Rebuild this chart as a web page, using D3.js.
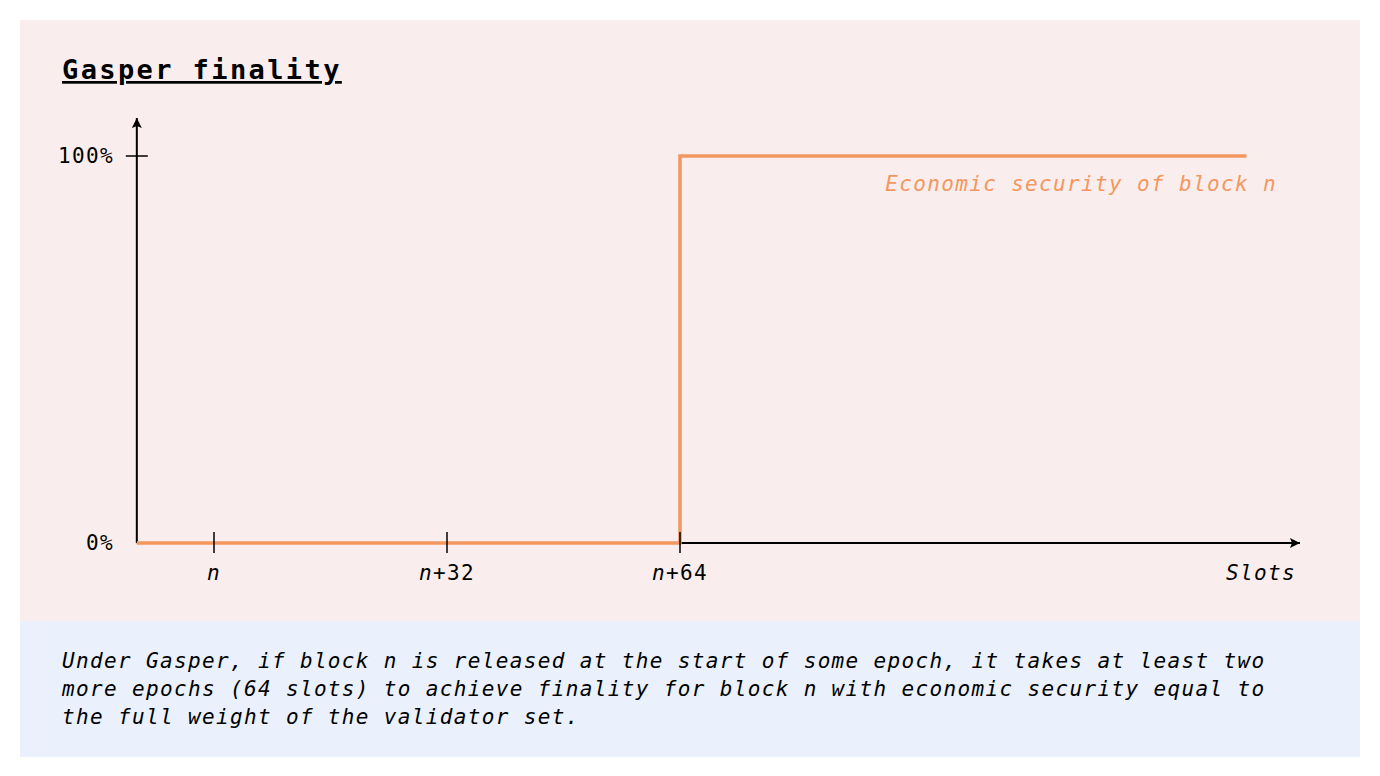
<!DOCTYPE html>
<html lang="en">
<head>
<meta charset="UTF-8"/>
<title>Gasper finality</title>
<script src="https://d3js.org/d3.v7.min.js" charset="utf-8"></script>
<style>
  body { margin: 0; background: #fff; }
  text { font-family: "DejaVu Sans Mono", monospace; font-size: 21px; letter-spacing: 1.35px; fill: #000; }
</style>
</head>
<body>
<script>
// data
var slotTicks = [0, 32, 64];
var slotLabels = ["n", "n+32", "n+64"];
var securitySlots = [-10.6, 64, 64, 141.8];
var securityValues = [0, 0, 100, 100];
var yTicks = [0, 100];
var yLabels = ["0%", "100%"];
var captionLines = [
  "Under Gasper, if block n is released at the start of some epoch, it takes at least two",
  "more epochs (64 slots) to achieve finality for block n with economic security equal to",
  "the full weight of the validator set."
];

var W = 1380, H = 776;
var svg = d3.select("body").append("svg").attr("width", W).attr("height", H);

svg.append("rect").attr("x", 20).attr("y", 20).attr("width", 1340).attr("height", 601).attr("fill", "#f9eeed");
svg.append("rect").attr("x", 20).attr("y", 621).attr("width", 1340).attr("height", 136).attr("fill", "#eaf1fc");

svg.append("text").attr("x", 62).attr("y", 79)
  .style("font-size", "27px").style("font-weight", "bold").style("letter-spacing", "2.4px")
  .style("text-decoration", "underline").text("Gasper finality");

var x = d3.scaleLinear().domain([0, 64]).range([214, 680]);
var y = d3.scaleLinear().domain([0, 100]).range([543, 156]);
var x0 = x(-10.6);

svg.append("defs").append("marker").attr("id", "arr")
  .attr("viewBox", "0 0 10 10").attr("refX", 10).attr("refY", 5)
  .attr("markerWidth", 10).attr("markerHeight", 10).attr("markerUnits", "userSpaceOnUse")
  .attr("orient", "auto")
  .append("path").attr("d", "M0,0 L10,5 L0,10 L2,5 Z").attr("fill", "#000");

// axes
svg.append("line").attr("x1", x0).attr("y1", y(0)).attr("x2", x0).attr("y2", 118)
  .attr("stroke", "#000").attr("stroke-width", 2).attr("marker-end", "url(#arr)");
svg.append("line").attr("x1", x0).attr("y1", y(0)).attr("x2", 1300).attr("y2", y(0))
  .attr("stroke", "#000").attr("stroke-width", 2).attr("marker-end", "url(#arr)");

// series line
svg.append("path")
  .datum(securitySlots.map(function (s, i) { return [s, securityValues[i]]; }))
  .attr("fill", "none").attr("stroke", "#f4975f").attr("stroke-width", 3.5)
  .attr("d", d3.line().x(function (d) { return x(d[0]); }).y(function (d) { return y(d[1]); }));

// x ticks
slotTicks.forEach(function (t, i) {
  svg.append("line").attr("x1", x(t)).attr("x2", x(t)).attr("y1", y(0) - 11).attr("y2", y(0) + 10)
    .attr("stroke", "#000").attr("stroke-width", 1.5);
  var tx = svg.append("text").attr("x", x(t)).attr("y", 580).attr("text-anchor", "middle");
  var lab = slotLabels[i];
  tx.append("tspan").style("font-style", "italic").text("n");
  if (lab.length > 1) tx.append("tspan").text(lab.slice(1));
});

// y ticks
yTicks.forEach(function (t, i) {
  if (t > 0) svg.append("line").attr("x1", x0 - 11).attr("x2", x0 + 11).attr("y1", y(t)).attr("y2", y(t))
    .attr("stroke", "#000").attr("stroke-width", 1.5);
  svg.append("text").attr("x", 114).attr("y", y(t) + 7).attr("text-anchor", "end").text(yLabels[i]);
});

svg.append("text").attr("x", 1296).attr("y", 580).attr("text-anchor", "end")
  .style("font-style", "italic").text("Slots");
svg.append("text").attr("x", 1277).attr("y", 191).attr("text-anchor", "end")
  .style("font-style", "italic").attr("fill", "#f4975f").style("fill", "#f4975f")
  .text("Economic security of block n");

captionLines.forEach(function (l, i) {
  svg.append("text").attr("x", 62).attr("y", 668 + i * 28).style("font-style", "italic").text(l);
});
</script>
</body>
</html>
